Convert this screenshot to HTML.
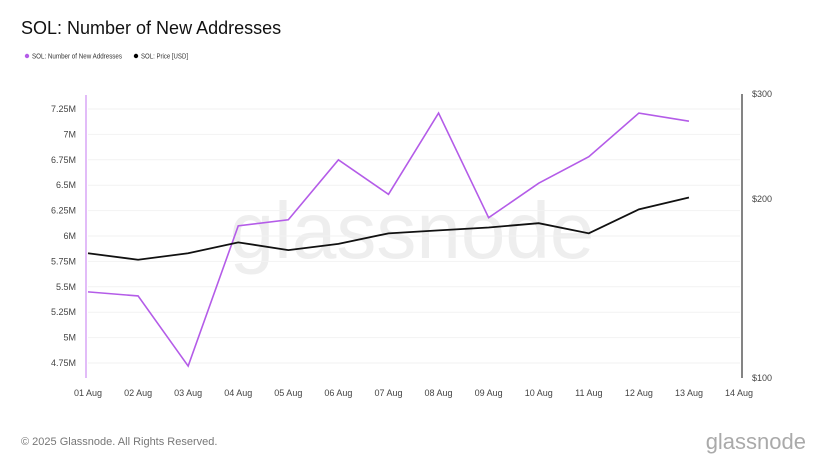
<!DOCTYPE html>
<html><head><meta charset="utf-8"><style>
body{margin:0;width:828px;height:466px;background:#fff;font-family:"Liberation Sans",sans-serif;overflow:hidden}
</style></head><body>
<svg id="c" width="828" height="466" xmlns="http://www.w3.org/2000/svg">
<text x="21" y="34" font-size="18" fill="#111">SOL: Number of New Addresses</text>
<g>
<circle cx="27" cy="56" r="2.2" fill="#b45ce8"/>
<text x="32" y="58.5" font-size="7" fill="#333" textLength="90" lengthAdjust="spacingAndGlyphs">SOL: Number of New Addresses</text>
<circle cx="136" cy="56" r="2.2" fill="#000"/>
<text x="141" y="58.5" font-size="7" fill="#333" textLength="47" lengthAdjust="spacingAndGlyphs">SOL: Price [USD]</text>
</g>
<text x="412" y="258" font-size="80" fill="#eeeeee" text-anchor="middle">glassnode</text>
<g id="g"></g>
<text x="21" y="445" font-size="11" fill="#777">© 2025 Glassnode. All Rights Reserved.</text>
<text x="806" y="449" font-size="22" fill="#aaa" text-anchor="end">glassnode</text>
</svg>
<script>
const dates=["01 Aug","02 Aug","03 Aug","04 Aug","05 Aug","06 Aug","07 Aug","08 Aug","09 Aug","10 Aug","11 Aug","12 Aug","13 Aug","14 Aug"];
const addresses=[5.45,5.41,4.72,6.10,6.16,6.75,6.41,7.21,6.18,6.52,6.78,7.21,7.13];
const price=[162,158,162,169,164,168,175,177,179,182,175,192,201];
const leftTicks=[4.75,5,5.25,5.5,5.75,6,6.25,6.5,6.75,7,7.25];
const leftLabels=["4.75M","5M","5.25M","5.5M","5.75M","6M","6.25M","6.5M","6.75M","7M","7.25M"];
const rightTicks=[100,200,300];
const rightLabels=["$100","$200","$300"];
const NS="http://www.w3.org/2000/svg",g=document.getElementById('g');
const x=i=>88+i*50.08;
const yL=v=>109+(7.25-v)*101.6;
const yR=p=>378-284*Math.log(p/100)/Math.log(3);
function mk(t,a){const e=document.createElementNS(NS,t);for(const k in a)e.setAttribute(k,a[k]);g.appendChild(e);return e;}
leftTicks.forEach((v,i)=>{
 const l=mk('line',{x1:88,x2:740,y1:yL(v),y2:yL(v),stroke:'#f2f2f2','stroke-width':1});
 
 
 const t=mk('text',{x:76,y:yL(v)+3,'font-size':9,fill:'#444','text-anchor':'end'});t.textContent=leftLabels[i];
 
 
});
rightTicks.forEach((v,i)=>{
 const t=mk('text',{x:752,y:yR(v)+3,'font-size':9,fill:'#444'});t.textContent=rightLabels[i];
 
 
});
dates.forEach((d,i)=>{
 const t=mk('text',{x:x(i),y:396,'font-size':9,fill:'#444','text-anchor':'middle'});t.textContent=d;
 
 
});
const la=mk('line',{x1:86,x2:86,y1:95,y2:378,stroke:'#d9a6f5','stroke-width':1.5});


const ra=mk('line',{x1:742,x2:742,y1:94,y2:378,stroke:'#333','stroke-width':1.2});


const pa=mk('polyline',{points:addresses.map((v,i)=>x(i)+','+yL(v)).join(' '),fill:'none',stroke:'#b45ce8','stroke-width':1.6});


const pp=mk('polyline',{points:price.map((v,i)=>x(i)+','+yR(v)).join(' '),fill:'none',stroke:'#111','stroke-width':1.8});


</script>
</body></html>
